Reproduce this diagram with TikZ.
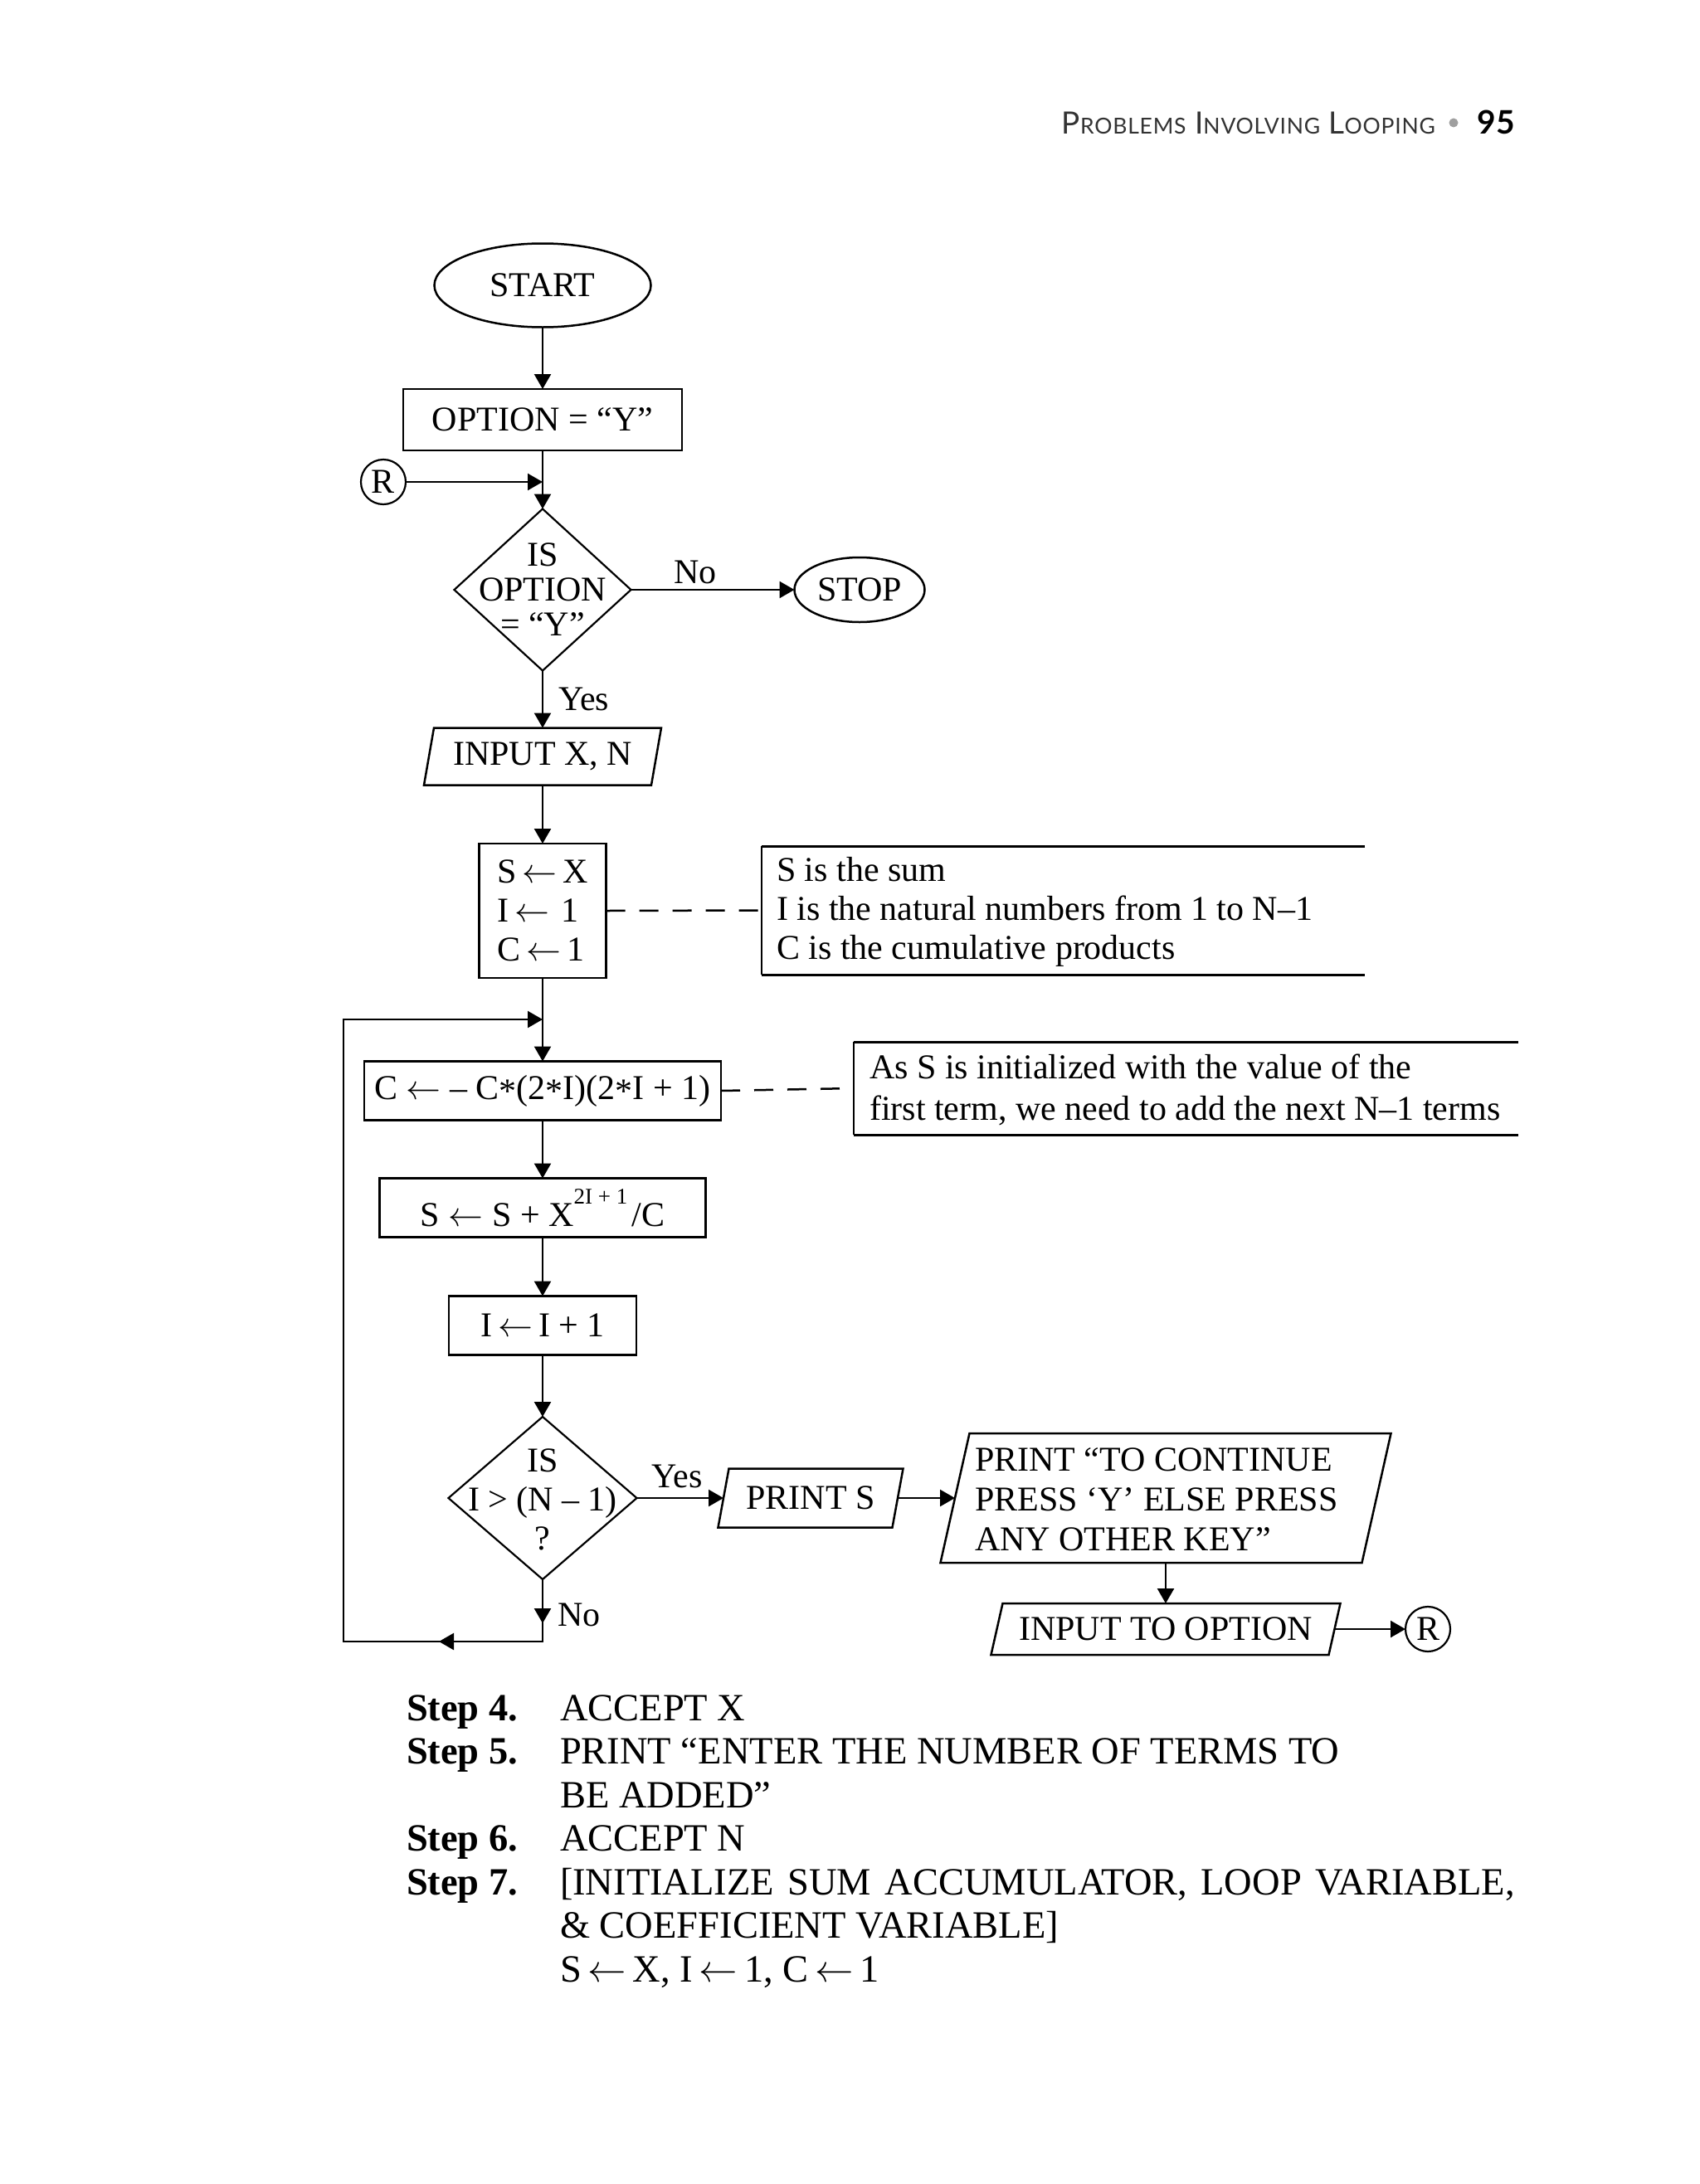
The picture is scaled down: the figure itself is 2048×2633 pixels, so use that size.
\documentclass[tikz,border=0pt]{standalone}
\usepackage{fontspec}
\newfontfamily\dfont{Liberation Serif}
\newfontfamily\hfont[LetterSpace=3]{Lato}
\newfontfamily\hbfont{Lato}
\newfontfamily\lmm{latinmodern-math.otf}
\usetikzlibrary{shapes.geometric,arrows.meta,decorations.markings}
\definecolor{hdrgray}{HTML}{333333}
\newcommand\hdrsc[1]{{\fontsize{26.5}{26.5}\selectfont #1}}
\newcommand\la{{\lmm ←}}
\begin{document}
\begin{tikzpicture}[x=1pt,y=-1pt,
  every node/.style={inner sep=0pt, outer sep=0pt},
  lw/.style={line width=2.5pt},
  dtext/.style={font=\dfont\fontsize{42}{44}\selectfont},
  box/.style={draw, line width=2.5pt, dtext},
  ell/.style={draw, ellipse, line width=2.5pt, dtext},
  circ/.style={draw, circle, line width=2.2pt, dtext, minimum size=54},
  dia/.style={draw, diamond, line width=2.2pt},
  conn/.style={line width=2.5pt, -{Triangle[length=18pt,width=20pt]}},
  dashln/.style={line width=2.5pt, dash pattern=on 23pt off 17pt},
  noteline/.style={line width=3pt},
  steplab/.style={font=\dfont\fontsize{46.5}{52}\selectfont\bfseries, anchor=base west},
  steptext/.style={font=\dfont\fontsize{46.5}{52}\selectfont, anchor=base west}
]
\fill[white] (0,0) rectangle (2048,2633);
\useasboundingbox (0,0) rectangle (2048,2633);

% header
\node[anchor=base east, font=\hfont\fontsize{37}{37}\selectfont, text=hdrgray] (hdr) at (1730,162)
  {P\hdrsc{ROBLEMS} I\hdrsc{NVOLVING} L\hdrsc{OOPING}};
\node[circle, fill=gray!75, minimum size=11] (bul) at (1752,148) {};
\node[anchor=base east, font=\hbfont\bfseries\fontsize{39}{39}\selectfont] (pg) at (1826,162) {95};

% top part
\node[ell, minimum width=261, minimum height=101] (start) at (654,344) {START};
\node[box, minimum width=336, minimum height=74] (opt) at (654,506) {OPTION = “Y”};
\node[circ] (r1) at (462,581) {R};
\coordinate (j1) at (654,581);
\node[dia, minimum width=213, minimum height=195] (d1) at (654,711) {};
\node[dtext, align=center, font=\dfont\fontsize{42}{42}\selectfont] (d1t) at (654,711) {IS\\OPTION\\= “Y”};
\node[ell, minimum width=157, minimum height=78] (stop) at (1036,711) {STOP};
\node[dtext] (no1) at (838,690) {No};
\node[dtext, anchor=west] (yes1) at (673,843) {Yes};

\draw[conn] (start) -- (opt);
\draw[conn] (opt.south) -- (d1.north);
\draw[conn] (r1) -- (j1);
\draw[conn] (d1.east) -- (stop.west);

% input X, N
\node[dtext, minimum width=286, minimum height=69] (inp) at (654,912) {INPUT X, N};
\draw[lw] ([xshift=12]inp.north west) -- (inp.north east) -- ([xshift=-12]inp.south east) -- (inp.south west) -- cycle;
\draw[conn] (d1.south) -- (inp.north);

% init
\node[box, minimum width=153, minimum height=162, align=left, font=\dfont\fontsize{42}{47}\selectfont] (init) at (654,1098) {S\,\la\,X\\I\,\la\,\,1\\C\,\la\,1};
\draw[conn] (inp.south) -- (init.north);

\node[minimum width=727, minimum height=155] (n1box) at (1281.5,1097.5) {};
\draw[noteline] (n1box.north east) -- (n1box.north west);
\draw[noteline] (n1box.south east) -- (n1box.south west);
\draw[line width=2pt] (n1box.north west) -- (n1box.south west);
\node[dtext, align=left, anchor=west, font=\dfont\fontsize{42}{47}\selectfont] (n1) at (936,1099)
  {S is the sum\\I is the natural numbers from 1 to N–1\\C is the cumulative products};
\draw[dashln] (init.east) -- (n1box.west);

% loop body
\coordinate (j2) at (654,1229);
\node[box, minimum width=430, minimum height=71] (cbox) at (654,1315) {C \la{} – C\raisebox{-0.25ex}{*}(2\raisebox{-0.25ex}{*}I)(2\raisebox{-0.25ex}{*}I + 1)};
\draw[conn] (init.south) -- (cbox.north);

\node[minimum width=801, minimum height=112] (n2box) at (1429.5,1312) {};
\draw[noteline] (n2box.north east) -- (n2box.north west);
\draw[noteline] (n2box.south east) -- (n2box.south west);
\draw[line width=2pt] (n2box.north west) -- (n2box.south west);
\node[dtext, align=left, anchor=west, font=\dfont\fontsize{42}{50}\selectfont] (n2) at (1048,1314)
  {As S is initialized with the value of the\\first term, we need to add the next N–1 terms};
\draw[dashln] (cbox.east) -- (n2box.west);

\node[box, minimum width=393, minimum height=71] (sbox) at (654,1456) {S \la{} S + X\raisebox{27pt}{\fontsize{27}{27}\selectfont 2I + 1}\kern5pt/C};
\node[box, minimum width=226, minimum height=71] (ibox) at (654,1598) {I\,\la\,I + 1};
\draw[conn] (cbox.south) -- (sbox.north);
\draw[conn] (sbox.south) -- (ibox.north);

\node[dia, minimum width=227, minimum height=196] (d2) at (654,1806) {};
\node[dtext, align=center, font=\dfont\fontsize{42}{47}\selectfont] (d2t) at (654,1808) {IS\\I > (N – 1)\\?};
\draw[conn] (ibox.south) -- (d2.north);

% print S
\node[dtext, minimum width=223, minimum height=71] (ps) at (977,1806) {PRINT S};
\draw[lw] ([xshift=13]ps.north west) -- (ps.north east) -- ([xshift=-13]ps.south east) -- (ps.south west) -- cycle;
\draw[conn] (d2.east) -- ([xshift=6.5]ps.west);
\node[dtext] (yes2) at (816,1780) {Yes};

\node[minimum width=543, minimum height=156] (pc) at (1405,1806) {};
\draw[lw] ([xshift=35]pc.north west) -- (pc.north east) -- ([xshift=-35]pc.south east) -- (pc.south west) -- cycle;
\node[dtext, align=left, anchor=west, font=\dfont\fontsize{42}{48}\selectfont] (pct) at (1175,1808)
  {PRINT “TO CONTINUE\\PRESS ‘Y’ ELSE PRESS\\ANY OTHER KEY”};
\draw[conn] ([xshift=-6.5]ps.east) -- ([xshift=17.5]pc.west);

\node[dtext, minimum width=421, minimum height=62] (inopt) at (1405,1964) {INPUT TO OPTION};
\draw[lw] ([xshift=14]inopt.north west) -- (inopt.north east) -- ([xshift=-14]inopt.south east) -- (inopt.south west) -- cycle;
\draw[conn] (pc.south) -- (inopt.north);
\node[circ] (r2) at (1721,1964) {R};
\draw[conn] ([xshift=-7]inopt.east) -- (r2.west);

% loop back
\coordinate (c1) at (654,1979);
\coordinate (c2) at (414,1979);
\coordinate (c3) at (414,1229);
\draw[conn, postaction={decorate}, decoration={markings,
   mark=at position 53pt with {\arrow{Triangle[length=18pt,width=20pt]}},
   mark=at position 200pt with {\arrow{Triangle[length=18pt,width=20pt]}}}]
   (d2.south) -- (c1) -- (c2) -- (c3) -- (j2);
\node[dtext, anchor=west] (no2) at (672,1947) {No};

% steps
\node[steplab] (s4) at (490,2074) {Step 4.};
\node[steptext] (t4) at (675,2074) {ACCEPT X};
\node[steplab] (s5) at (490,2126.5) {Step 5.};
\node[steptext] (t5a) at (675,2126.5) {PRINT “ENTER THE NUMBER OF TERMS TO};
\node[steptext] (t5b) at (675,2179) {BE ADDED”};
\node[steplab] (s6) at (490,2231.5) {Step 6.};
\node[steptext] (t6) at (675,2231.5) {ACCEPT N};
\node[steplab] (s7) at (490,2284) {Step 7.};
\node[steptext] (t7a) at (675,2284) {\makebox[1151pt][s]{[INITIALIZE SUM ACCUMULATOR, LOOP VARIABLE,}};
\node[steptext] (t7b) at (675,2336.5) {\& COEFFICIENT VARIABLE]};
\node[steptext] (t7c) at (675,2389) {S\,\la\,X, I\,\la\,1, C\,\la\,1};
\end{tikzpicture}
\end{document}
